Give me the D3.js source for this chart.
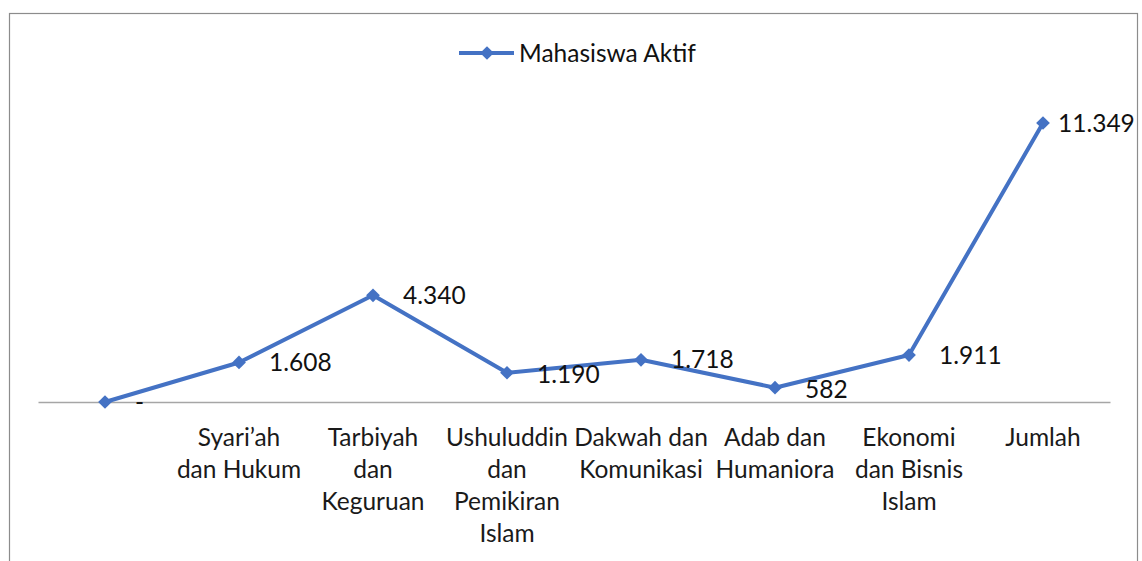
<!DOCTYPE html>
<html><head><meta charset="utf-8">
<script src="https://cdn.jsdelivr.net/npm/d3@7"></script>
<style>html,body{margin:0;padding:0;background:#fff;}svg{display:block;}</style>
</head><body>
<svg id="chart" width="1142" height="561"></svg>
<script>
const categories = ["", "Syari’ah dan Hukum", "Tarbiyah dan Keguruan", "Ushuluddin dan Pemikiran Islam", "Dakwah dan Komunikasi", "Adab dan Humaniora", "Ekonomi dan Bisnis Islam", "Jumlah"];
const categoryLines = [[""], ["Syari’ah", "dan Hukum"], ["Tarbiyah", "dan", "Keguruan"], ["Ushuluddin", "dan", "Pemikiran", "Islam"], ["Dakwah dan", "Komunikasi"], ["Adab dan", "Humaniora"], ["Ekonomi", "dan Bisnis", "Islam"], ["Jumlah"]];
const values = [0, 1608, 4340, 1190, 1718, 582, 1911, 11349];
const valueLabels = ["-", "1.608", "4.340", "1.190", "1.718", "582", "1.911", "11.349"];
const seriesName = "Mahasiswa Aktif";

const svg = d3.select("#chart");
const FONT = "Lato, 'Open Sans', sans-serif";
const color = "#4472C4";

// outer border
svg.append("rect").attr("x", 9.5).attr("y", 13.5).attr("width", 1128).attr("height", 600)
  .attr("fill", "none").attr("stroke", "#8c8c8c").attr("stroke-width", 1.2);

const x = d3.scaleBand().domain(categories).range([38, 1110]).padding(0);
const y = d3.scaleLinear().domain([0, 11349]).range([402, 123]);
const cx = c => x(c) + x.bandwidth() / 2;

// axis line
const axis = d3.axisBottom(x).tickSize(0).tickFormat(() => "");
const ax = svg.append("g").attr("transform", `translate(0,${y(0)})`).call(axis);
ax.select(".domain").attr("stroke", "#a6a6a6").attr("stroke-width", 1.3);

// category labels
categories.forEach((c, i) => {
  const t = svg.append("text").attr("x", cx(c)).attr("y", 446)
    .attr("text-anchor", "middle").attr("font-family", FONT).attr("font-size", 24.5).attr("fill", "#1a1a1a");
  categoryLines[i].forEach((ln, j) => {
    t.append("tspan").attr("x", cx(c)).attr("dy", j === 0 ? 0 : 32).text(ln);
  });
});

// line
const line = d3.line().x((d, i) => cx(categories[i])).y(d => y(d));
svg.append("path").datum(values).attr("d", line).attr("fill", "none")
  .attr("stroke", color).attr("stroke-width", 4).attr("stroke-linejoin", "round");

// markers
const diamond = d3.symbol().type(d3.symbolDiamond2).size(120);
svg.selectAll(".mk").data(values).join("path")
  .attr("transform", (d, i) => `translate(${cx(categories[i])},${y(d)})`)
  .attr("d", diamond).attr("fill", color);

// data labels
svg.selectAll(".lbl").data(values).join("text")
  .attr("x", (d, i) => cx(categories[i]) + (i === values.length - 1 ? 15 : 30))
  .attr("y", (d, i) => y(d) + 8.5 + (i === 5 || i === 3 ? 2 : 0))
  .attr("font-family", FONT).attr("font-size", 24.5).attr("fill", "#111")
  .text((d, i) => valueLabels[i]);

// legend
const lg = svg.append("g");
lg.append("line").attr("x1", 459).attr("x2", 514).attr("y1", 53).attr("y2", 53)
  .attr("stroke", color).attr("stroke-width", 4);
lg.append("path").attr("transform", "translate(487,53)").attr("d", diamond).attr("fill", color);
lg.append("text").attr("x", 519).attr("y", 61.5).attr("font-family", FONT).attr("font-size", 24.5)
  .attr("fill", "#111").text(seriesName);
</script>
</body></html>
